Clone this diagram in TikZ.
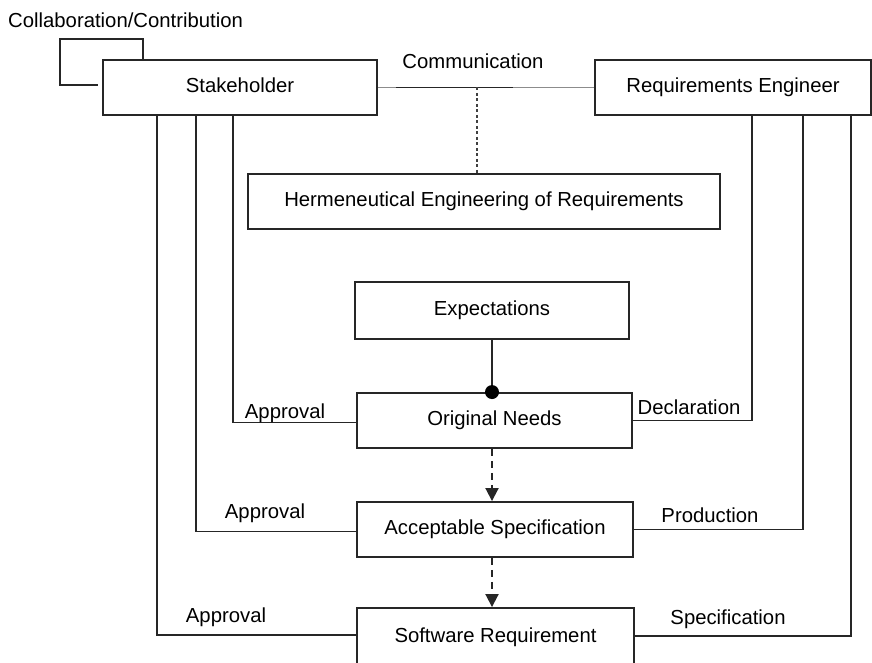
\documentclass[tikz,border=0pt]{standalone}
\usepackage{fontspec}
\setmainfont{Liberation Sans}
\usetikzlibrary{arrows.meta}
\begin{document}
\begin{tikzpicture}[x=1pt,y=-1pt,
  every node/.style={font=\fontsize{20.3}{24}\selectfont, text=black},
  box/.style={draw=black!85, line width=1.9pt, rectangle, inner sep=0pt},
  conn/.style={draw=black!85, line width=1.9pt},
  lbl/.style={inner sep=0pt},
  darr/.style={conn, dash pattern=on 7pt off 5pt, -{Triangle[length=13pt,width=13pt]}}
]
\useasboundingbox (0,0) rectangle (872,663);
\clip (0,0) rectangle (872,663);
% boxes
\node[box, minimum width=274pt, minimum height=55pt] (stake) at (240,87.5) {\raisebox{4pt}{Stakeholder}};
\node[box, minimum width=276pt, minimum height=55pt] (re) at (733,87.5) {\raisebox{3pt}{Requirements Engineer}};
\node[box, minimum width=472pt, minimum height=55pt] (herm) at (484,201.5) {\raisebox{3pt}{Hermeneutical Engineering of Requirements}};
\node[box, minimum width=274pt, minimum height=57pt] (exp) at (492,310.5) {\raisebox{3pt}{Expectations}};
\node[box, minimum width=275pt, minimum height=55pt] (orig) at (494.5,420.5) {\raisebox{3pt}{Original Needs}};
\node[box, minimum width=276pt, minimum height=55pt] (accept) at (495,529.5) {\raisebox{3pt}{Acceptable Specification}};
\node[box, minimum width=277pt, minimum height=64pt] (soft) at (495.5,640) {\raisebox{10pt}{Software Requirement}};
% collaboration loop
\node[lbl, anchor=west] (collab) at (8,20) {Collaboration/Contribution};
\draw[conn] ([xshift=41pt]stake.north west) -- ++(0,-20) -- ++(-83,0) -- ++(0,46) -- ++(38,0);
% communication
\node[lbl] (comm) at (473,61) {Communication};
\draw[draw=black!45, line width=1.5pt] (stake.east) -- (re.west);
\draw[conn] ([xshift=18pt]stake.east) -- ++(117,0);
\draw[draw=black!75, line width=1.8pt, dash pattern=on 3pt off 2.5pt] ([xshift=-7pt]herm.north |- stake.east) -- ([xshift=-7pt]herm.north);
% expectations to original needs
\draw[conn] (exp.south) -- (exp.south |- orig.north);
\fill[black] (exp.south |- orig.north) circle (7pt);
% dashed arrows
\draw[darr] (exp.south |- orig.south) -- (exp.south |- accept.north);
\draw[darr] (exp.south |- accept.south) -- (exp.south |- soft.north);
% stakeholder approvals
\draw[conn] ([xshift=131pt]stake.south west) |- ([yshift=-2pt]orig.west);
\draw[conn] ([xshift=94pt]stake.south west) |- ([yshift=-2pt]accept.west);
\draw[conn] ([xshift=55pt]stake.south west) |- ([yshift=5pt]soft.west);
\node[lbl] (ap1) at (285,413) {Approval};
\node[lbl] (ap2) at (265,513) {Approval};
\node[lbl] (ap3) at (226,617) {Approval};
% requirements engineer lines
\draw[conn] ([xshift=158pt]re.south west) |- (orig.east);
\draw[conn] ([xshift=209pt]re.south west) |- (accept.east);
\draw[conn] ([xshift=257pt]re.south west) |- ([yshift=4pt]soft.east);
\node[lbl] (decl) at (689,407) {Declaration};
\node[lbl] (prod) at (710,515) {Production};
\node[lbl] (spec) at (728,619) {Specification};
\end{tikzpicture}
\end{document}
